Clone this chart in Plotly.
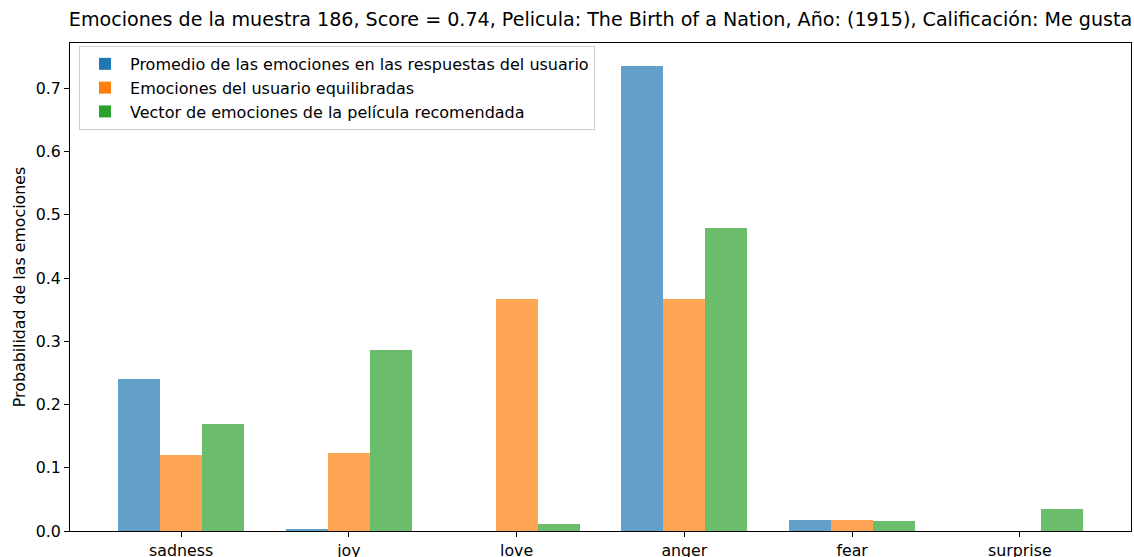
import plotly.graph_objects as go

categories = ["sadness", "joy", "love", "anger", "fear", "surprise"]
promedio_usuario = [0.240, 0.003, 0.0, 0.735, 0.018, 0.0]
usuario_equilibradas = [0.120, 0.124, 0.367, 0.367, 0.018, 0.0]
vector_pelicula = [0.169, 0.286, 0.011, 0.479, 0.016, 0.035]
series_names = [
    "Promedio de las emociones en las respuestas del usuario",
    "Emociones del usuario equilibradas",
    "Vector de emociones de la película recomendada",
]
y_ticks = [0.0, 0.1, 0.2, 0.3, 0.4, 0.5, 0.6, 0.7]

colors = ["#1f77b4", "#ff7f0e", "#2ca02c"]
width = 0.25
offsets = [-width, 0.0, width]
FONT = "DejaVu Sans"
FS = 15.8

idx = list(range(len(categories)))
fig = go.Figure()
for k, (name, vals) in enumerate(zip(series_names, [promedio_usuario, usuario_equilibradas, vector_pelicula])):
    fig.add_trace(go.Bar(
        x=[i + offsets[k] for i in idx],
        y=vals,
        width=width,
        name=name,
        legendgroup=f"g{k}",
        marker=dict(color=colors[k], opacity=0.7, line=dict(width=0)),
    ))

n = len(categories)
xpad = 0.05 * ((n - 1 + 1.5 * width) - (-1.5 * width))
ymax = max(max(promedio_usuario), max(usuario_equilibradas), max(vector_pelicula)) * 1.05

fig.update_layout(
    width=1134, height=557,
    margin=dict(l=70, r=3, t=43, b=26),
    paper_bgcolor="white", plot_bgcolor="white",
    font=dict(family=FONT, size=FS, color="black"),
    title=dict(
        text="Emociones de la muestra 186, Score = 0.74, Pelicula: The Birth of a Nation, Año: (1915), Calificación: Me gusta",
        x=0.5, xref="paper", xanchor="center",
        y=1 - 19 / 557, yref="container", yanchor="middle",
        font=dict(family=FONT, size=19.1, color="black"),
    ),
    bargap=0, barmode="overlay",
    showlegend=True,
    legend=dict(
        x=0.0085, y=0.994, xanchor="left", yanchor="top",
        bgcolor="rgba(255,255,255,0.8)", bordercolor="#cccccc", borderwidth=1,
        font=dict(family=FONT, size=16, color="black"),
        tracegroupgap=0,
        itemwidth=40,
    ),
    xaxis=dict(
        range=[-1.5 * width - xpad, n - 1 + 1.5 * width + xpad],
        tickmode="array", tickvals=idx, ticktext=categories,
        showgrid=False, zeroline=False, automargin=False,
        showline=True, linecolor="black", linewidth=1, mirror=True,
        ticks="outside", ticklen=5, tickcolor="black",
        tickfont=dict(family=FONT, size=FS, color="black"),
    ),
    yaxis=dict(
        range=[0, ymax],
        tickmode="array", tickvals=y_ticks, ticktext=[f"{v:.1f}" for v in y_ticks],
        showgrid=False, zeroline=False, automargin=False,
        showline=True, linecolor="black", linewidth=1, mirror=True,
        ticks="outside", ticklen=5, tickcolor="black",
        tickfont=dict(family=FONT, size=FS, color="black"),
        title=dict(text="Probabilidad de las emociones", font=dict(family=FONT, size=FS, color="black"), standoff=6),
    ),
)

fig.write_html(
    "out.html",
    config={"displayModeBar": False},
    post_script="document.body.style.margin='0';",
)
